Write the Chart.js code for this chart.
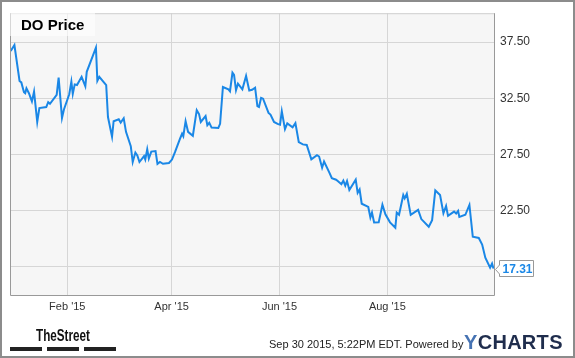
<!DOCTYPE html>
<html><head><meta charset="utf-8">
<script src="https://cdn.jsdelivr.net/npm/chart.js@4.4.1/dist/chart.umd.min.js"></script>
<style>
html,body{margin:0;padding:0;background:#fff;}
#wrap{position:relative;width:575px;height:358px;overflow:hidden;font-family:Arial,"Liberation Sans",sans-serif;}
#frame{position:absolute;left:0;top:0;width:575px;height:358px;box-sizing:border-box;border:2px solid #8c8c8c;pointer-events:none;}
canvas{position:absolute;left:0;top:0;}
#title{position:absolute;left:10px;top:10px;width:85px;height:26px;background:rgba(255,255,255,0.6);}
#title span{position:absolute;left:11px;top:6.6px;font:bold 15px Arial,"Liberation Sans";line-height:15px;color:#000;white-space:nowrap;}
#last{position:absolute;font:bold 12px Arial,"Liberation Sans";line-height:14px;color:#1a87e6;white-space:nowrap;}
#ts{position:absolute;left:36px;top:328px;font:bold 16px Arial,"Liberation Sans";line-height:16px;color:#111;transform:scaleX(0.73);transform-origin:0 0;white-space:nowrap;}
.bar{position:absolute;top:347px;height:4px;background:#222;}
#stamp{position:absolute;left:269px;top:339px;font:11px Arial,"Liberation Sans";line-height:11px;color:#222;white-space:nowrap;}
#yc{position:absolute;left:464px;top:332px;font:bold 20px Arial,"Liberation Sans";line-height:20px;color:#1f2d4d;white-space:nowrap;letter-spacing:0.3px;}
#yc b{color:#4673b3;}
</style></head>
<body>
<div id="wrap">
<canvas id="c" width="575" height="358"></canvas>
<div id="title"><span>DO Price</span></div>
<div id="last"></div>
<div id="ts">TheStreet</div>
<div class="bar" style="left:10px;width:32px"></div>
<div class="bar" style="left:47px;width:32px"></div>
<div class="bar" style="left:84px;width:32px"></div>
<div id="stamp">Sep 30 2015, 5:22PM EDT. Powered by</div>
<div id="yc"><b>Y</b>CHARTS</div>
<div id="frame"></div>
</div>
<script>
// days since Jan 1 2015
const days = [-1.0,1.1,4.0,5.0,6.5,7.2,7.9,9.3,11.0,12.2,
14.0,15.2,19.1,20.2,21.2,25.0,26.1,28.0,29.1,32.1,
33.3,34.1,35.2,36.5,39.1,41.2,42.0,47.2,48.0,49.1,
53.0,54.0,56.3,57.2,60.1,61.2,62.9,64.2,66.9,68.0,
69.5,70.6,71.8,74.4,75.1,76.2,77.1,78.5,80.9,82.0,
83.4,85.1,88.5,90.2,91.9,94.7,95.9,96.6,97.9,99.3,
102.0,104.2,105.5,106.5,109.2,110.2,111.3,112.6,116.4,117.4,
119.0,122.1,123.0,124.4,125.3,126.4,127.5,130.0,132.1,133.9,
135.5,137.2,138.5,139.4,140.6,141.7,144.8,145.9,147.9,149.9,
151.3,152.3,154.1,155.4,158.4,160.0,161.9,164.2,166.4,169.0,
172.2,173.4,175.1,176.2,179.2,180.6,183.0,184.1,186.0,187.1,
188.2,189.2,190.5,194.1,195.2,196.3,197.5,201.2,202.4,203.3,
204.5,207.1,209.2,210.9,213.5,216.5,217.3,218.6,221.0,221.8,
223.0,225.2,229.4,231.2,235.4,237.3,239.1,241.8,243.7,245.2,
246.3,249.7,250.9,252.0,252.7,256.1,258.4,260.3,263.7,265.6,
267.4,270.1,271.2,272.0];
const prices = [36.71,37.24,34.04,33.91,33.03,32.94,33.38,32.94,32.21,33.09,
30.38,31.62,31.71,32.15,32.00,32.79,34.33,30.74,31.50,32.85,
33.97,32.88,33.73,33.67,34.41,33.56,34.85,37.00,34.06,34.41,
33.67,30.82,29.06,30.45,30.62,30.32,30.71,29.50,28.22,26.81,
27.65,27.39,26.81,27.34,27.03,27.94,27.12,27.74,27.78,26.64,
26.81,26.65,26.72,27.03,27.69,28.88,29.33,29.11,30.45,29.50,
29.15,31.44,31.09,30.38,30.91,30.09,30.30,29.88,29.85,30.21,
33.50,33.29,33.12,34.77,34.57,33.21,33.80,33.29,34.48,33.18,
33.25,33.44,31.79,31.71,32.53,32.46,31.19,31.04,30.38,30.21,
30.14,31.33,29.74,30.25,29.90,30.28,28.58,28.38,28.33,27.05,
27.42,27.30,26.30,26.86,25.87,25.36,25.23,25.09,24.83,25.15,
24.70,25.12,24.32,25.24,24.06,24.36,23.09,22.80,21.86,22.30,
21.42,21.43,23.00,22.14,21.43,20.95,22.30,22.11,23.86,23.57,
23.97,22.09,22.54,21.72,21.04,21.63,24.27,23.86,22.24,22.89,
22.01,22.39,22.21,22.45,21.92,22.10,22.98,20.15,20.04,19.45,
18.28,17.39,17.75,17.31];
const xTickDays = [31, 90, 151, 212];
const xTickLabels = ["Feb '15", "Apr '15", "Jun '15", "Aug '15"];
const yTicks = [17.5, 22.5, 27.5, 32.5, 37.5];
const xDomain = [-1.4, 272.3];
const yDomain = [14.95, 40.08];

const LINE = '#1a87e6';

const frame = {
  id: 'frame',
  beforeDraw(chart) {
    const {ctx, chartArea: a} = chart;
    ctx.save();
    ctx.fillStyle = '#f6f6f6';
    ctx.fillRect(a.left, a.top, a.right - a.left, a.bottom - a.top);
    ctx.restore();
  },
  afterDraw(chart) {
    const {ctx, chartArea: a} = chart;
    ctx.save();
    ctx.lineWidth = 1;
    ctx.strokeStyle = '#d0d0d0';
    ctx.beginPath();
    ctx.moveTo(a.left, a.top + 0.5); ctx.lineTo(a.right, a.top + 0.5);
    ctx.stroke();
    ctx.strokeStyle = '#999';
    ctx.beginPath();
    ctx.moveTo(a.left + 0.5, a.top); ctx.lineTo(a.left + 0.5, a.bottom + 0.5);
    ctx.lineTo(a.right + 0.5, a.bottom + 0.5); ctx.lineTo(a.right + 0.5, a.top);
    ctx.stroke();
    // last value flag
    const i = prices.length - 1;
    const py = Math.round(chart.scales.y.getPixelForValue(prices[i])) + 0.5;
    const tip = a.right + 1.5;
    const bx = a.right + 5.5, bw = 34, bh = 16;
    ctx.beginPath();
    ctx.moveTo(tip, py);
    ctx.lineTo(bx, py - 4.5);
    ctx.lineTo(bx, py - bh / 2 - 1);
    ctx.lineTo(bx + bw, py - bh / 2 - 1);
    ctx.lineTo(bx + bw, py + bh / 2 - 1);
    ctx.lineTo(bx, py + bh / 2 - 1);
    ctx.lineTo(bx, py + 4.5);
    ctx.closePath();
    ctx.fillStyle = '#fff';
    ctx.fill();
    ctx.strokeStyle = '#999';
    ctx.stroke();
    ctx.restore();
    const el = document.getElementById('last');
    el.textContent = prices[i].toFixed(2);
    el.style.left = (bx + 3) + 'px';
    el.style.top = (py - 8) + 'px';
  }
};

new Chart(document.getElementById('c'), {
  type: 'line',
  data: {
    datasets: [{
      data: days.map((d, k) => ({x: d, y: prices[k]})),
      borderColor: LINE,
      borderWidth: 2,
      pointRadius: 0,
      tension: 0,
      fill: false
    }]
  },
  options: {
    responsive: false,
    animation: false,
    devicePixelRatio: 1,
    layout: {padding: {left: 10, top: 10, right: 0, bottom: 0}},
    plugins: {legend: {display: false}, tooltip: {enabled: false}},
    scales: {
      x: {
        type: 'linear',
        min: xDomain[0], max: xDomain[1],
        afterBuildTicks: s => { s.ticks = xTickDays.map(v => ({value: v})); },
        afterFit: s => { s.height = 63; },
        ticks: {
          callback: v => xTickLabels[xTickDays.indexOf(v)] || '',
          font: {family: 'Arial, "Liberation Sans"', size: 11},
          color: '#333', padding: 5, maxRotation: 0, autoSkip: false
        },
        grid: {color: '#d6d6d6', drawTicks: false},
        border: {display: false}
      },
      y: {
        position: 'right',
        min: yDomain[0], max: yDomain[1],
        afterBuildTicks: s => { s.ticks = yTicks.map(v => ({value: v})); },
        afterFit: s => { s.width = 81; },
        ticks: {
          callback: v => v.toFixed(2),
          font: {family: 'Arial, "Liberation Sans"', size: 12},
          color: '#333', padding: 6
        },
        grid: {color: '#d6d6d6', drawTicks: false},
        border: {display: false}
      }
    }
  },
  plugins: [frame]
});
</script>
</body></html>
